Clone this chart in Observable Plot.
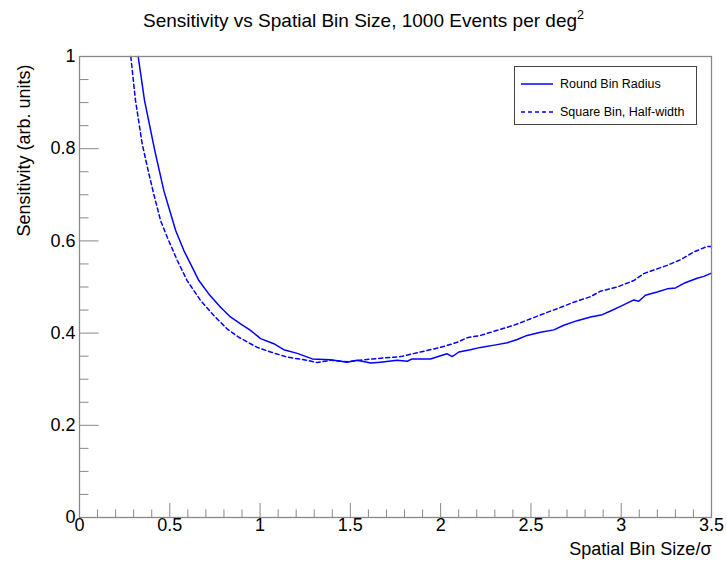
<!DOCTYPE html>
<html><head><meta charset="utf-8">
<script src="https://cdn.jsdelivr.net/npm/d3@7"></script>
<script src="https://cdn.jsdelivr.net/npm/@observablehq/plot@0.6"></script>
<style>
body{margin:0;background:#fff;font-family:"Liberation Sans",Arial,sans-serif;}
#wrap{position:relative;width:727px;height:569px;overflow:hidden;}
#title{position:absolute;left:0;top:10px;width:727px;text-align:center;font-size:19px;color:#000;white-space:nowrap;}
#title sup{font-size:12.5px;vertical-align:8px;line-height:0;}
#chart{position:absolute;left:0;top:40px;}
#legend{position:absolute;left:514px;top:66px;width:181px;height:57px;border:1px solid #444;background:#fff;font-size:12.5px;}
#legend .row{position:absolute;left:6px;height:16px;display:flex;align-items:center;}
#legend svg{display:block;margin-right:7px;}
</style></head>
<body>
<div id="wrap">
  <div id="title">Sensitivity vs Spatial Bin Size, 1000 Events per deg<sup>2</sup></div>
  <div id="chart"></div>
  <div id="legend"></div>
</div>
<script>
// Round Bin Radius (solid)
const roundX = [0.325,0.360,0.417,0.467,0.532,0.578,0.624,0.661,0.716,0.781,0.836,0.892,0.947,1.003,1.076,1.131,1.206,1.289,1.390,1.483,1.538,1.612,1.667,1.759,1.815,1.842,1.944,1.999,2.036,2.064,2.101,2.165,2.221,2.313,2.369,2.424,2.479,2.553,2.627,2.682,2.756,2.830,2.895,2.941,2.996,3.070,3.097,3.134,3.199,3.255,3.301,3.347,3.421,3.457,3.500];
const roundY = [1.000,0.905,0.796,0.709,0.623,0.579,0.543,0.514,0.485,0.456,0.435,0.420,0.406,0.388,0.377,0.364,0.356,0.344,0.342,0.337,0.341,0.335,0.337,0.341,0.339,0.344,0.344,0.351,0.355,0.349,0.359,0.364,0.369,0.375,0.379,0.386,0.395,0.402,0.407,0.417,0.427,0.435,0.440,0.448,0.458,0.472,0.469,0.482,0.489,0.496,0.498,0.508,0.519,0.523,0.530];
// Square Bin, Half-width (dashed)
const squareX = [0.284,0.310,0.347,0.384,0.411,0.449,0.486,0.541,0.596,0.670,0.744,0.818,0.882,0.984,1.058,1.150,1.261,1.316,1.390,1.483,1.574,1.685,1.778,1.888,1.999,2.092,2.147,2.221,2.313,2.405,2.498,2.590,2.646,2.737,2.830,2.885,2.978,3.070,3.125,3.181,3.255,3.328,3.402,3.476,3.500];
const squareY = [1.000,0.905,0.811,0.746,0.702,0.644,0.608,0.558,0.514,0.471,0.438,0.409,0.391,0.369,0.359,0.348,0.341,0.336,0.341,0.338,0.342,0.346,0.349,0.359,0.369,0.380,0.390,0.395,0.406,0.417,0.431,0.445,0.453,0.467,0.479,0.491,0.500,0.514,0.529,0.537,0.547,0.559,0.576,0.588,0.588];

const seriesNames = ["Round Bin Radius", "Square Bin, Half-width"];
const xMajorTicks = [0,0.5,1,1.5,2,2.5,3,3.5];
const xTickLabels = ["0","0.5","1","1.5","2","2.5","3","3.5"];
const xMinorTicks = [0.1,0.2,0.3,0.4,0.6,0.7,0.8,0.9,1.1,1.2,1.3,1.4,1.6,1.7,1.8,1.9,2.1,2.2,2.3,2.4,2.6,2.7,2.8,2.9,3.1,3.2,3.3,3.4];
const yMajorTicks = [0,0.2,0.4,0.6,0.8,1];
const yTickLabels = ["0","0.2","0.4","0.6","0.8","1"];
const yMinorTicks = [0.05,0.1,0.15,0.25,0.3,0.35,0.45,0.5,0.55,0.65,0.7,0.75,0.85,0.9,0.95];
const xTitle = "Spatial Bin Size/σ";
const yTitle = "Sensitivity (arb. units)";

const round = roundX.map((x,i)=>({x, y: roundY[i]}));
const square = squareX.map((x,i)=>({x, y: squareY[i]}));

const W = 727, H = 529, mT = 16, mB = 52, mL = 79, mR = 16;
const fH = H - mT - mB, fW = W - mL - mR;
const axisColor = "#888";
const blue = "#0000ff";

const chart = Plot.plot({
  width: W, height: H,
  marginTop: mT, marginBottom: mB, marginLeft: mL, marginRight: mR,
  style: {fontFamily: '"Liberation Sans", Arial, sans-serif', background: "#fff", overflow: "visible"},
  x: {domain: [0, 3.5], axis: null},
  y: {domain: [0, 1], axis: null},
  marks: [
    Plot.line(square, {x: "x", y: "y", stroke: blue, strokeWidth: 1.5, strokeDasharray: "4,3"}),
    Plot.line(round, {x: "x", y: "y", stroke: blue, strokeWidth: 1.5}),
    Plot.frame({stroke: axisColor, strokeWidth: 1.3}),
    Plot.tickX(xMajorTicks, {x: d => d, stroke: axisColor, insetTop: fH - 14}),
    Plot.tickX(xMinorTicks, {x: d => d, stroke: axisColor, insetTop: fH - 7.5}),
    Plot.tickY(yMajorTicks, {y: d => d, stroke: axisColor, insetRight: fW - 19.5}),
    Plot.tickY(yMinorTicks, {y: d => d, stroke: axisColor, insetRight: fW - 9.5}),
    Plot.text(xMajorTicks, {x: d => d, frameAnchor: "bottom", dy: 13, text: (d,i) => xTickLabels[i], fontSize: 18, fill: "#000"}),
    Plot.text(yMajorTicks, {y: d => d, frameAnchor: "left", dx: -4, textAnchor: "end", text: (d,i) => yTickLabels[i], fontSize: 18, fill: "#000"}),
    Plot.text([xTitle], {frameAnchor: "bottom-right", dy: 37, textAnchor: "end", text: d => d, fontSize: 18, fill: "#000"}),
    Plot.text([yTitle], {frameAnchor: "top-left", dx: -62, dy: 8, rotate: -90, textAnchor: "end", text: d => d, fontSize: 18, fill: "#000"})
  ]
});
document.getElementById("chart").appendChild(chart);

const legend = document.getElementById("legend");
const dashes = [null, "4,3"];
seriesNames.forEach((name, i) => {
  const row = document.createElement("div");
  row.className = "row";
  row.style.top = (i === 0 ? 9 : 37) + "px";
  row.innerHTML = `<svg width="32" height="4"><line x1="0" y1="2" x2="32" y2="2" stroke="${blue}" stroke-width="1.5" ${dashes[i] ? `stroke-dasharray="${dashes[i]}"` : ""}/></svg><span>${name}</span>`;
  legend.appendChild(row);
});
</script>
</body></html>
